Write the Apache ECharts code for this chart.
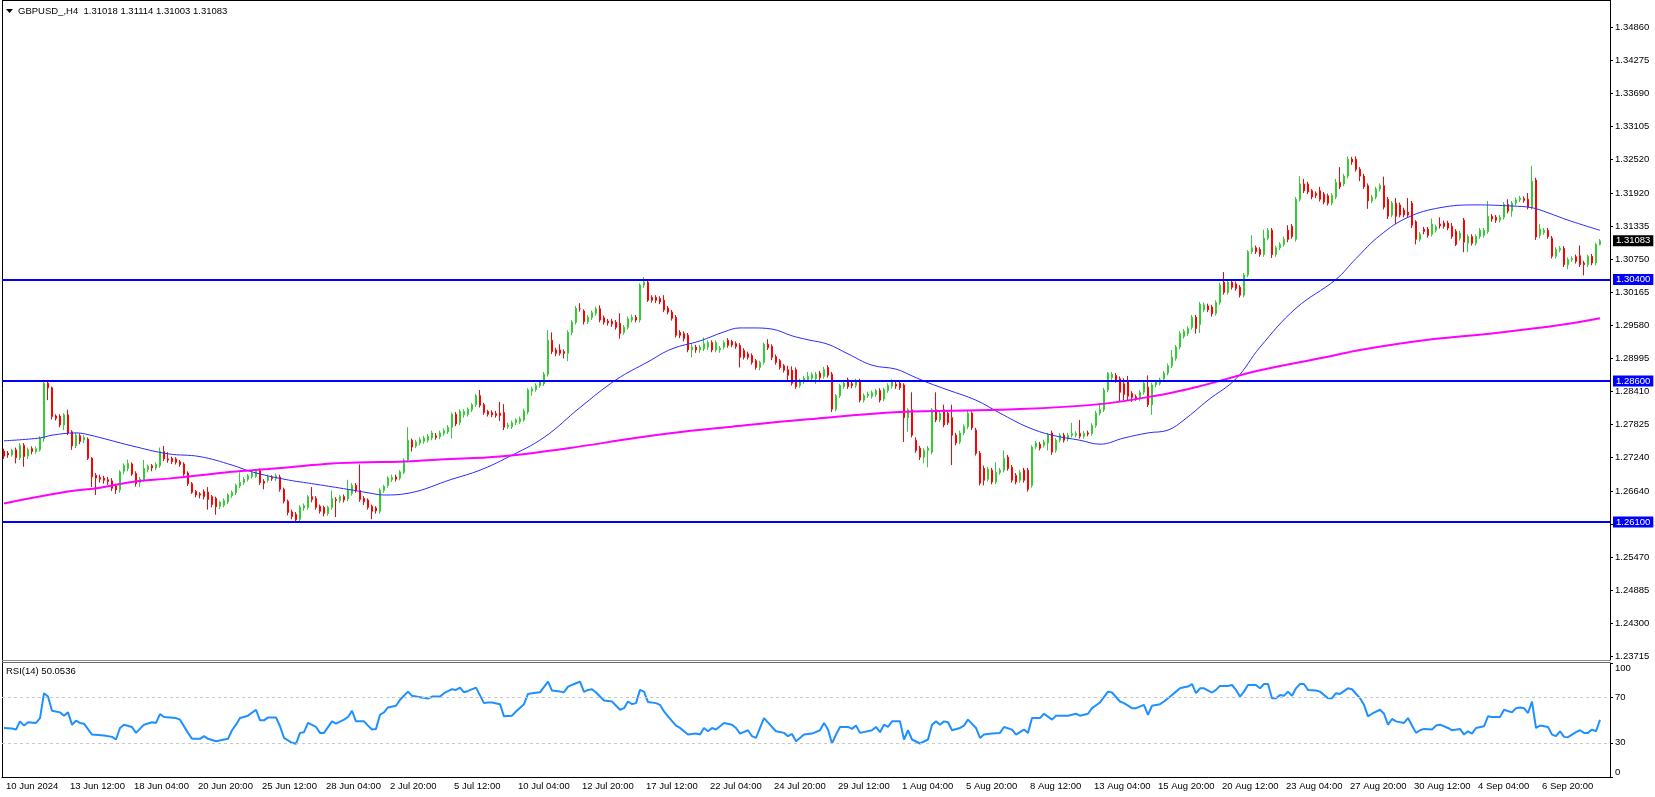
<!DOCTYPE html>
<html>
<head>
<meta charset="utf-8">
<title>GBPUSD H4</title>
<script src="https://cdn.jsdelivr.net/npm/echarts@6/dist/echarts.min.js"></script>
<style>
html, body {margin: 0; padding: 0; background: #fff;}
#chart {width: 1655px; height: 797px;}
</style>
</head>
<body>
<div id="chart"></div>
<script>
// H4 bars, [open, close, low, high], first bar 10 Jun 20:00
const candles = [
[1.2736,1.2727,1.2722,1.2740],[1.2732,1.2729,1.2724,1.2736],[1.2729,1.2737,1.2726,1.2740],[1.2738,1.2724,1.2714,1.2742],
[1.2724,1.2746,1.2720,1.2750],[1.2746,1.2726,1.2708,1.2750],[1.2727,1.2738,1.2722,1.2742],[1.2740,1.2735,1.2730,1.2744],
[1.2735,1.2740,1.2731,1.2744],[1.2738,1.2758,1.2735,1.2762],[1.2758,1.2856,1.2752,1.2860],[1.2856,1.2848,1.2826,1.2860],
[1.2848,1.2797,1.2792,1.2850],[1.2798,1.2794,1.2790,1.2801],[1.2798,1.2782,1.2778,1.2801],[1.2782,1.2800,1.2773,1.2803],
[1.2800,1.2768,1.2764,1.2809],[1.2770,1.2745,1.2738,1.2773],[1.2745,1.2764,1.2741,1.2768],[1.2763,1.2753,1.2748,1.2767],
[1.2756,1.2760,1.2750,1.2764],[1.2757,1.2723,1.2720,1.2760],[1.2723,1.2690,1.2672,1.2725],[1.2693,1.2688,1.2658,1.2697],
[1.2689,1.2686,1.2680,1.2694],[1.2688,1.2684,1.2678,1.2692],[1.2685,1.2682,1.2676,1.2690],[1.2683,1.2670,1.2665,1.2688],
[1.2674,1.2667,1.2660,1.2678],[1.2667,1.2699,1.2662,1.2702],[1.2700,1.2710,1.2695,1.2714],[1.2705,1.2714,1.2700,1.2721],
[1.2713,1.2695,1.2692,1.2716],[1.2696,1.2678,1.2673,1.2700],[1.2680,1.2686,1.2672,1.2690],[1.2685,1.2705,1.2682,1.2720],
[1.2703,1.2709,1.2698,1.2712],[1.2710,1.2706,1.2700,1.2713],[1.2706,1.2712,1.2702,1.2716],[1.2710,1.2735,1.2706,1.2742],
[1.2735,1.2722,1.2718,1.2745],[1.2722,1.2720,1.2715,1.2734],[1.2723,1.2717,1.2713,1.2726],[1.2722,1.2716,1.2712,1.2725],
[1.2717,1.2712,1.2708,1.2720],[1.2713,1.2695,1.2692,1.2716],[1.2697,1.2678,1.2674,1.2700],[1.2678,1.2663,1.2660,1.2681],
[1.2664,1.2658,1.2654,1.2667],[1.2660,1.2658,1.2652,1.2663],[1.2664,1.2655,1.2650,1.2668],[1.2663,1.2650,1.2632,1.2672],
[1.2655,1.2641,1.2636,1.2658],[1.2652,1.2637,1.2623,1.2655],[1.2638,1.2645,1.2633,1.2648],[1.2640,1.2648,1.2636,1.2652],
[1.2646,1.2658,1.2642,1.2661],[1.2657,1.2663,1.2653,1.2666],[1.2662,1.2675,1.2658,1.2678],[1.2674,1.2680,1.2670,1.2698],
[1.2680,1.2686,1.2676,1.2690],[1.2686,1.2692,1.2682,1.2695],[1.2691,1.2697,1.2687,1.2700],[1.2691,1.2700,1.2688,1.2704],
[1.2701,1.2680,1.2676,1.2705],[1.2682,1.2679,1.2668,1.2686],[1.2684,1.2690,1.2680,1.2694],[1.2689,1.2687,1.2683,1.2693],
[1.2687,1.2692,1.2683,1.2696],[1.2690,1.2668,1.2664,1.2694],[1.2668,1.2647,1.2643,1.2671],[1.2647,1.2627,1.2622,1.2650],
[1.2628,1.2620,1.2615,1.2632],[1.2624,1.2614,1.2610,1.2628],[1.2615,1.2636,1.2611,1.2640],[1.2635,1.2639,1.2630,1.2643],
[1.2636,1.2655,1.2632,1.2658],[1.2655,1.2650,1.2645,1.2672],[1.2652,1.2636,1.2632,1.2656],[1.2638,1.2629,1.2625,1.2641],
[1.2636,1.2625,1.2620,1.2639],[1.2625,1.2636,1.2621,1.2639],[1.2636,1.2652,1.2632,1.2666],[1.2650,1.2648,1.2619,1.2654],
[1.2648,1.2655,1.2644,1.2658],[1.2655,1.2649,1.2645,1.2659],[1.2651,1.2667,1.2647,1.2685],[1.2661,1.2675,1.2657,1.2679],
[1.2675,1.2666,1.2662,1.2679],[1.2666,1.2650,1.2646,1.2712],[1.2652,1.2646,1.2640,1.2656],[1.2649,1.2636,1.2632,1.2652],
[1.2638,1.2629,1.2615,1.2641],[1.2635,1.2630,1.2625,1.2638],[1.2629,1.2667,1.2625,1.2670],[1.2666,1.2673,1.2662,1.2676],
[1.2675,1.2688,1.2671,1.2691],[1.2685,1.2689,1.2681,1.2694],[1.2690,1.2686,1.2682,1.2694],[1.2688,1.2699,1.2684,1.2702],
[1.2698,1.2720,1.2695,1.2723],[1.2720,1.2755,1.2716,1.2778],[1.2755,1.2743,1.2735,1.2758],[1.2745,1.2752,1.2741,1.2756],
[1.2750,1.2756,1.2746,1.2760],[1.2753,1.2759,1.2749,1.2763],[1.2755,1.2762,1.2751,1.2766],[1.2759,1.2768,1.2755,1.2772],
[1.2763,1.2760,1.2756,1.2768],[1.2761,1.2768,1.2757,1.2772],[1.2767,1.2772,1.2763,1.2776],[1.2770,1.2778,1.2766,1.2782],
[1.2778,1.2801,1.2758,1.2804],[1.2801,1.2784,1.2780,1.2805],[1.2786,1.2806,1.2782,1.2810],[1.2800,1.2806,1.2795,1.2810],
[1.2801,1.2810,1.2797,1.2813],[1.2809,1.2818,1.2805,1.2821],[1.2818,1.2834,1.2814,1.2837],[1.2834,1.2817,1.2813,1.2844],
[1.2818,1.2804,1.2800,1.2821],[1.2806,1.2801,1.2797,1.2809],[1.2804,1.2800,1.2796,1.2808],[1.2802,1.2799,1.2795,1.2807],
[1.2803,1.2799,1.2789,1.2823],[1.2804,1.2778,1.2773,1.2819],[1.2779,1.2782,1.2775,1.2786],[1.2779,1.2786,1.2775,1.2790],
[1.2786,1.2791,1.2782,1.2794],[1.2788,1.2793,1.2784,1.2797],[1.2791,1.2807,1.2788,1.2811],[1.2805,1.2844,1.2801,1.2847],
[1.2842,1.2846,1.2834,1.2850],[1.2845,1.2852,1.2841,1.2856],[1.2852,1.2858,1.2848,1.2862],[1.2855,1.2872,1.2851,1.2876],
[1.2872,1.2932,1.2868,1.2950],[1.2932,1.2912,1.2908,1.2946],[1.2915,1.2909,1.2904,1.2919],[1.2915,1.2909,1.2905,1.2925],
[1.2912,1.2909,1.2900,1.2916],[1.2909,1.2946,1.2895,1.2950],[1.2946,1.2964,1.2941,1.2968],[1.2964,1.2989,1.2960,1.2993],
[1.2988,1.2988,1.2983,1.2998],[1.2984,1.2965,1.2960,1.2987],[1.2965,1.2973,1.2961,1.2977],[1.2972,1.2981,1.2968,1.2985],
[1.2980,1.2988,1.2976,1.2992],[1.2988,1.2968,1.2964,1.2994],[1.2972,1.2964,1.2960,1.2976],[1.2966,1.2963,1.2958,1.2970],
[1.2966,1.2961,1.2956,1.2970],[1.2964,1.2955,1.2951,1.2968],[1.2962,1.2944,1.2935,1.2980],[1.2946,1.2955,1.2942,1.2959],
[1.2955,1.2970,1.2951,1.2974],[1.2968,1.2973,1.2964,1.2978],[1.2973,1.2968,1.2964,1.2977],[1.2968,1.3030,1.2964,1.3033],
[1.3030,1.3035,1.3025,1.3044],[1.3035,1.3003,1.3000,1.3040],[1.3008,1.3003,1.2999,1.3012],[1.3008,1.3003,1.2998,1.3012],
[1.3006,1.3000,1.2996,1.3010],[1.3003,1.2986,1.2982,1.3012],[1.2989,1.2982,1.2978,1.2993],[1.2982,1.2971,1.2967,1.2986],
[1.2973,1.2941,1.2937,1.2977],[1.2946,1.2941,1.2936,1.2950],[1.2944,1.2935,1.2930,1.2948],[1.2941,1.2915,1.2911,1.2945],
[1.2915,1.2920,1.2902,1.2927],[1.2920,1.2915,1.2910,1.2924],[1.2915,1.2920,1.2910,1.2924],[1.2917,1.2926,1.2913,1.2937],
[1.2920,1.2928,1.2915,1.2932],[1.2928,1.2915,1.2911,1.2932],[1.2915,1.2928,1.2911,1.2932],[1.2915,1.2918,1.2910,1.2922],
[1.2920,1.2928,1.2916,1.2932],[1.2932,1.2923,1.2919,1.2936],[1.2930,1.2924,1.2920,1.2933],[1.2926,1.2921,1.2917,1.2930],
[1.2923,1.2902,1.2884,1.2927],[1.2914,1.2902,1.2898,1.2918],[1.2908,1.2902,1.2898,1.2912],[1.2905,1.2893,1.2889,1.2909],
[1.2896,1.2884,1.2880,1.2899],[1.2884,1.2893,1.2879,1.2896],[1.2893,1.2925,1.2889,1.2928],[1.2925,1.2919,1.2915,1.2934],
[1.2921,1.2902,1.2897,1.2925],[1.2903,1.2893,1.2889,1.2907],[1.2896,1.2884,1.2880,1.2899],[1.2887,1.2879,1.2875,1.2890],
[1.2880,1.2870,1.2858,1.2887],[1.2879,1.2856,1.2852,1.2886],[1.2880,1.2850,1.2846,1.2884],[1.2852,1.2860,1.2848,1.2864],
[1.2859,1.2865,1.2855,1.2869],[1.2862,1.2868,1.2858,1.2876],[1.2865,1.2871,1.2861,1.2875],[1.2864,1.2872,1.2855,1.2876],
[1.2874,1.2866,1.2862,1.2878],[1.2868,1.2880,1.2864,1.2885],[1.2884,1.2870,1.2866,1.2888],[1.2872,1.2810,1.2805,1.2876],
[1.2810,1.2834,1.2806,1.2837],[1.2834,1.2852,1.2830,1.2855],[1.2850,1.2856,1.2846,1.2860],[1.2862,1.2850,1.2846,1.2866],
[1.2855,1.2852,1.2847,1.2859],[1.2852,1.2861,1.2848,1.2864],[1.2861,1.2826,1.2822,1.2864],[1.2826,1.2834,1.2822,1.2838],
[1.2834,1.2837,1.2830,1.2841],[1.2833,1.2839,1.2829,1.2843],[1.2836,1.2843,1.2832,1.2846],[1.2843,1.2826,1.2822,1.2847],
[1.2828,1.2845,1.2824,1.2848],[1.2843,1.2852,1.2839,1.2856],[1.2851,1.2860,1.2847,1.2863],[1.2854,1.2851,1.2846,1.2858],
[1.2856,1.2848,1.2844,1.2860],[1.2853,1.2795,1.2752,1.2856],[1.2795,1.2809,1.2770,1.2812],[1.2809,1.2764,1.2760,1.2840],
[1.2755,1.2737,1.2733,1.2760],[1.2741,1.2725,1.2720,1.2745],[1.2725,1.2737,1.2714,1.2741],[1.2737,1.2741,1.2707,1.2745],
[1.2734,1.2809,1.2730,1.2812],[1.2809,1.2791,1.2787,1.2840],[1.2791,1.2803,1.2787,1.2807],[1.2809,1.2782,1.2778,1.2818],
[1.2803,1.2786,1.2782,1.2807],[1.2795,1.2764,1.2711,1.2818],[1.2764,1.2750,1.2746,1.2768],[1.2752,1.2768,1.2748,1.2772],
[1.2768,1.2779,1.2764,1.2783],[1.2779,1.2803,1.2775,1.2807],[1.2803,1.2777,1.2773,1.2806],[1.2773,1.2732,1.2728,1.2777],
[1.2732,1.2679,1.2675,1.2736],[1.2705,1.2684,1.2675,1.2710],[1.2686,1.2704,1.2682,1.2708],[1.2702,1.2681,1.2677,1.2706],
[1.2681,1.2698,1.2677,1.2716],[1.2698,1.2702,1.2694,1.2706],[1.2702,1.2723,1.2698,1.2737],[1.2725,1.2705,1.2701,1.2729],
[1.2707,1.2684,1.2680,1.2711],[1.2693,1.2681,1.2677,1.2697],[1.2684,1.2698,1.2680,1.2702],[1.2702,1.2684,1.2680,1.2706],
[1.2702,1.2668,1.2664,1.2706],[1.2675,1.2743,1.2671,1.2746],[1.2743,1.2750,1.2739,1.2754],[1.2748,1.2741,1.2737,1.2752],
[1.2746,1.2752,1.2742,1.2756],[1.2750,1.2764,1.2737,1.2768],[1.2768,1.2734,1.2729,1.2772],[1.2737,1.2755,1.2733,1.2759],
[1.2755,1.2764,1.2751,1.2768],[1.2764,1.2755,1.2751,1.2768],[1.2757,1.2764,1.2753,1.2768],[1.2764,1.2767,1.2760,1.2786],
[1.2764,1.2767,1.2760,1.2771],[1.2767,1.2762,1.2758,1.2791],[1.2762,1.2767,1.2758,1.2771],[1.2768,1.2766,1.2762,1.2772],
[1.2767,1.2781,1.2763,1.2785],[1.2781,1.2803,1.2777,1.2807],[1.2803,1.2809,1.2799,1.2821],[1.2809,1.2844,1.2805,1.2848],
[1.2844,1.2874,1.2840,1.2876],[1.2866,1.2872,1.2858,1.2876],[1.2870,1.2861,1.2857,1.2874],[1.2864,1.2840,1.2823,1.2868],
[1.2855,1.2836,1.2826,1.2865],[1.2860,1.2833,1.2826,1.2869],[1.2838,1.2831,1.2823,1.2842],[1.2832,1.2829,1.2825,1.2836],
[1.2829,1.2840,1.2825,1.2844],[1.2840,1.2856,1.2836,1.2860],[1.2849,1.2818,1.2814,1.2870],[1.2818,1.2853,1.2800,1.2857],
[1.2853,1.2858,1.2849,1.2862],[1.2856,1.2862,1.2852,1.2866],[1.2864,1.2874,1.2860,1.2878],[1.2874,1.2887,1.2870,1.2891],
[1.2887,1.2902,1.2883,1.2915],[1.2900,1.2920,1.2896,1.2924],[1.2920,1.2944,1.2916,1.2948],[1.2939,1.2948,1.2935,1.2952],
[1.2944,1.2953,1.2940,1.2957],[1.2955,1.2973,1.2951,1.2977],[1.2973,1.2953,1.2944,1.2977],[1.2960,1.2996,1.2945,1.3000],
[1.2986,1.2995,1.2982,1.2999],[1.2993,1.2986,1.2982,1.2997],[1.2991,1.2979,1.2974,1.2995],[1.2980,1.2999,1.2976,1.3003],
[1.2999,1.3030,1.2995,1.3034],[1.3035,1.3017,1.3013,1.3053],[1.3017,1.3035,1.3013,1.3038],[1.3035,1.3026,1.3022,1.3039],
[1.3032,1.3024,1.3020,1.3036],[1.3026,1.3012,1.3008,1.3030],[1.3012,1.3048,1.3008,1.3051],[1.3048,1.3089,1.3044,1.3092],
[1.3089,1.3096,1.3085,1.3118],[1.3096,1.3089,1.3085,1.3100],[1.3093,1.3084,1.3080,1.3097],[1.3084,1.3113,1.3080,1.3128],
[1.3113,1.3127,1.3109,1.3131],[1.3127,1.3084,1.3078,1.3131],[1.3084,1.3096,1.3080,1.3100],[1.3096,1.3102,1.3092,1.3106],
[1.3102,1.3111,1.3098,1.3116],[1.3127,1.3111,1.3106,1.3136],[1.3134,1.3116,1.3112,1.3138],[1.3111,1.3182,1.3107,1.3186],
[1.3182,1.3209,1.3178,1.3223],[1.3209,1.3197,1.3193,1.3218],[1.3209,1.3195,1.3191,1.3213],[1.3197,1.3186,1.3182,1.3200],
[1.3192,1.3189,1.3184,1.3196],[1.3197,1.3182,1.3178,1.3204],[1.3191,1.3177,1.3173,1.3195],[1.3188,1.3175,1.3171,1.3192],
[1.3175,1.3189,1.3171,1.3193],[1.3186,1.3212,1.3182,1.3218],[1.3212,1.3204,1.3200,1.3239],[1.3209,1.3223,1.3205,1.3227],
[1.3223,1.3253,1.3219,1.3258],[1.3253,1.3248,1.3243,1.3257],[1.3253,1.3235,1.3231,1.3258],[1.3235,1.3223,1.3214,1.3239],
[1.3223,1.3204,1.3200,1.3227],[1.3206,1.3179,1.3165,1.3210],[1.3179,1.3186,1.3175,1.3190],[1.3186,1.3200,1.3182,1.3204],
[1.3200,1.3206,1.3196,1.3210],[1.3206,1.3168,1.3164,1.3222],[1.3182,1.3152,1.3147,1.3186],[1.3154,1.3175,1.3150,1.3179],
[1.3175,1.3152,1.3138,1.3184],[1.3172,1.3154,1.3150,1.3176],[1.3163,1.3154,1.3150,1.3167],[1.3159,1.3154,1.3150,1.3184],
[1.3175,1.3136,1.3131,1.3179],[1.3142,1.3111,1.3102,1.3145],[1.3111,1.3120,1.3107,1.3124],[1.3129,1.3125,1.3120,1.3133],
[1.3129,1.3118,1.3114,1.3133],[1.3120,1.3138,1.3116,1.3148],[1.3127,1.3133,1.3123,1.3137],[1.3138,1.3135,1.3130,1.3150],
[1.3140,1.3134,1.3130,1.3144],[1.3140,1.3131,1.3127,1.3144],[1.3134,1.3116,1.3112,1.3140],[1.3125,1.3102,1.3099,1.3129],
[1.3113,1.3122,1.3109,1.3126],[1.3145,1.3106,1.3088,1.3149],[1.3104,1.3116,1.3088,1.3120],[1.3116,1.3104,1.3100,1.3120],
[1.3104,1.3116,1.3100,1.3120],[1.3116,1.3127,1.3112,1.3131],[1.3118,1.3127,1.3114,1.3131],[1.3125,1.3152,1.3121,1.3179],
[1.3152,1.3147,1.3142,1.3156],[1.3150,1.3145,1.3140,1.3154],[1.3145,1.3150,1.3141,1.3154],[1.3150,1.3173,1.3146,1.3177],
[1.3173,1.3161,1.3157,1.3182],[1.3161,1.3175,1.3151,1.3179],[1.3175,1.3181,1.3171,1.3185],[1.3181,1.3184,1.3177,1.3188],
[1.3183,1.3180,1.3176,1.3187],[1.3182,1.3168,1.3164,1.3193],[1.3168,1.3214,1.3164,1.3241],[1.3216,1.3115,1.3110,1.3220],
[1.3118,1.3129,1.3113,1.3138],[1.3123,1.3127,1.3119,1.3131],[1.3127,1.3116,1.3112,1.3131],[1.3113,1.3081,1.3077,1.3117],
[1.3081,1.3093,1.3077,1.3097],[1.3092,1.3095,1.3088,1.3099],[1.3095,1.3066,1.3062,1.3099],[1.3066,1.3075,1.3058,1.3079],
[1.3075,1.3077,1.3071,1.3081],[1.3080,1.3072,1.3068,1.3084],[1.3082,1.3066,1.3062,1.3100],[1.3069,1.3066,1.3047,1.3073],
[1.3066,1.3081,1.3062,1.3084],[1.3081,1.3069,1.3065,1.3085],[1.3069,1.3102,1.3065,1.3105],[1.31018,1.31083,1.31003,1.31114]
];

// moving averages: [bar index, price]
const maFast = [
[0,1.2754],[9,1.2759],[12,1.2764],[18,1.2768],[21,1.2765],[32,1.2745],[41,1.2731],[49,1.2726],[57,1.2711],[62,1.2699],
[70,1.2686],[78,1.2677],[86,1.2668],[91,1.2662],[95,1.2658],[101,1.2661],[112,1.2686],[119,1.2702],[126,1.2725],[135,1.2760],
[144,1.2813],[153,1.2862],[161,1.2894],[167,1.2917],[174,1.2931],[180,1.2947],[184,1.2954],[187,1.2954],[192,1.2952],[197,1.2940],
[201,1.2933],[206,1.2925],[211,1.2908],[217,1.2888],[223,1.2881],[227,1.2869],[231,1.2857],[236,1.2844],[243,1.2826],[249,1.2803],
[256,1.2778],[262,1.2764],[269,1.2755],[274,1.2748],[280,1.2759],[286,1.2768],[291,1.2773],[295,1.2791],[301,1.2826],[308,1.2864],
[314,1.2920],[323,1.2989],[333,1.3040],[338,1.3077],[344,1.3118],[351,1.3150],[359,1.3167],[368,1.3172],[377,1.3170],[382,1.3167],
[386,1.3158],[391,1.3145],[399,1.3127]
];
const maSlow = [
[0,1.2643],[16,1.2664],[24,1.2671],[32,1.2681],[41,1.2687],[49,1.2693],[57,1.2699],[66,1.2704],[74,1.2709],[82,1.2714],
[91,1.2716],[99,1.2717],[109,1.2721],[124,1.2726],[141,1.2741],[157,1.2758],[166,1.2767],[182,1.2779],[201,1.2792],[224,1.2805],
[249,1.2809],[274,1.2819],[291,1.2838],[298,1.2849],[314,1.2879],[331,1.2903],[339,1.2915],[356,1.2933],[373,1.2945],[389,1.2959],
[399,1.2971]
];

// RSI(14): [bar index, value]
const rsiLine = [
[0,43.0],[2,42.5],[3,41.6],[4,48.8],[5,45.1],[6,48.0],[8,47.4],[9,51.7],[10,73.5],[11,70.6],[12,58.1],[14,56.7],[15,53.8],
[16,56.7],[17,45.9],[18,49.4],[19,47.4],[20,46.8],[22,37.2],[25,36.4],[27,35.2],[28,32.9],[29,43.0],[30,45.9],[32,43.9],
[33,38.7],[35,45.9],[37,48.0],[38,47.4],[39,55.2],[40,52.6],[43,51.7],[44,50.3],[46,38.7],[47,33.5],[49,33.5],[50,35.8],
[51,33.5],[53,31.4],[56,33.5],[57,41.0],[58,45.9],[59,51.7],[61,53.8],[63,59.0],[64,49.7],[65,49.7],[66,52.3],[68,52.3],
[69,44.5],[70,34.3],[72,30.0],[73,29.1],[74,38.7],[75,39.3],[76,47.4],[78,43.9],[79,38.7],[80,38.7],[82,48.8],[83,46.8],
[85,50.3],[86,52.6],[87,58.1],[88,48.8],[90,48.8],[91,45.1],[92,41.6],[93,42.2],[94,54.6],[95,56.7],[96,61.0],[98,62.5],
[99,67.7],[101,74.9],[102,71.2],[104,70.0],[106,68.8],[107,70.6],[109,70.6],[110,73.5],[112,77.0],[113,76.4],[114,78.4],
[115,74.3],[116,75.5],[118,78.4],[120,64.8],[121,65.4],[122,65.4],[124,63.9],[125,53.2],[127,53.8],[128,57.5],[130,63.9],
[131,72.9],[132,73.5],[134,74.3],[136,83.6],[137,75.8],[139,74.9],[140,74.3],[141,79.3],[143,82.2],[144,83.6],[145,74.6],
[146,76.4],[147,77.0],[148,74.1],[150,67.1],[152,66.2],[154,59.0],[155,60.4],[156,66.2],[157,63.9],[158,64.8],[159,76.4],
[160,74.9],[161,65.7],[163,64.8],[164,63.3],[165,57.5],[166,53.2],[168,45.1],[169,43.0],[171,37.2],[173,38.1],[174,37.2],
[175,43.0],[176,40.1],[177,43.0],[178,41.6],[180,47.4],[182,45.9],[183,43.0],[184,38.1],[186,41.0],[187,35.8],[188,34.3],
[189,43.0],[190,51.7],[192,43.9],[193,40.1],[195,38.7],[196,35.8],[197,37.8],[198,31.4],[200,37.2],[202,38.1],[204,41.0],
[205,47.4],[206,41.6],[207,29.4],[208,37.2],[209,43.9],[211,43.9],[212,42.2],[213,45.1],[214,38.7],[217,41.0],[218,43.9],
[219,39.3],[220,45.9],[221,43.9],[222,48.8],[224,48.8],[225,32.9],[226,41.0],[227,32.9],[229,29.4],[231,32.9],[232,45.9],
[233,48.8],[234,45.9],[235,48.8],[236,48.0],[237,41.0],[239,43.0],[240,45.1],[241,50.3],[243,43.0],[244,34.3],[245,37.2],
[247,38.1],[249,38.7],[250,43.9],[252,41.6],[253,37.2],[255,41.6],[256,38.7],[257,51.7],[259,51.7],[260,55.5],[262,50.3],
[263,53.8],[266,53.8],[268,55.5],[269,53.8],[271,55.5],[272,60.4],[274,65.4],[276,74.9],[277,74.1],[279,66.2],[280,64.8],
[282,60.4],[283,60.4],[285,63.3],[286,54.6],[287,62.5],[289,63.9],[290,66.2],[291,69.1],[292,72.0],[293,74.9],[294,77.8],
[295,78.7],[296,79.3],[297,81.6],[298,73.5],[299,77.8],[300,77.8],[302,74.1],[303,76.4],[304,79.9],[306,79.9],[307,80.7],
[308,76.4],[309,70.6],[310,74.9],[311,80.7],[313,80.7],[314,77.8],[315,81.6],[316,81.6],[317,69.1],[318,69.1],[319,72.0],
[320,71.2],[321,74.9],[322,71.2],[323,77.8],[324,81.6],[325,81.6],[326,76.4],[328,75.8],[329,74.9],[331,69.1],[332,69.1],
[333,73.5],[334,72.9],[336,77.8],[337,77.0],[339,69.1],[340,63.3],[341,53.2],[342,55.5],[344,59.0],[345,55.5],[346,45.9],
[347,50.9],[348,48.8],[350,47.4],[351,51.7],[352,45.1],[353,38.7],[354,41.0],[355,42.2],[357,41.6],[358,45.1],[359,45.9],
[361,43.0],[362,41.0],[364,42.2],[365,37.2],[366,40.1],[367,38.1],[368,43.0],[370,44.5],[371,53.2],[372,52.6],[374,52.6],
[375,59.0],[377,56.7],[378,60.4],[379,61.0],[380,60.4],[381,56.1],[382,66.2],[383,43.0],[384,45.1],[386,43.9],[387,37.2],
[388,35.8],[389,40.1],[390,35.2],[391,34.9],[393,39.3],[394,41.0],[395,38.7],[396,38.7],[397,41.6],[398,40.1],[399,50.05]
];

const levels = [1.30400, 1.28600, 1.26100];
const lastPrice = 1.31083;
const priceTicks = [1.34860, 1.34275, 1.33690, 1.33105, 1.32520, 1.31920, 1.31335, 1.30750, 1.30165, 1.29580,
  1.28995, 1.28410, 1.27825, 1.27240, 1.26640, 1.26055, 1.25470, 1.24885, 1.24300, 1.23715];
const rsiTicks = [0, 30, 70, 100];
const timeLabels = ['10 Jun 2024', '13 Jun 12:00', '18 Jun 04:00', '20 Jun 20:00', '25 Jun 12:00', '28 Jun 04:00',
  '2 Jul 20:00', '5 Jul 12:00', '10 Jul 04:00', '12 Jul 20:00', '17 Jul 12:00', '22 Jul 04:00', '24 Jul 20:00',
  '29 Jul 12:00', '1 Aug 04:00', '5 Aug 20:00', '8 Aug 12:00', '13 Aug 04:00', '15 Aug 20:00', '20 Aug 12:00',
  '23 Aug 04:00', '27 Aug 20:00', '30 Aug 12:00', '4 Sep 04:00', '6 Sep 20:00'];
const labelStep = 16;

const font = 'Liberation Sans';
const slots = candles.length + 2;          // chart shift on the right
const cats = Array.from({length: slots}, (_, i) => i);
const showTime = (i) => i % labelStep === 0 && i / labelStep < timeLabels.length;

const option = {
    animation: false,
    backgroundColor: '#fff',
    grid: [
        {left: 2, right: 45, top: 0, height: 660},
        {left: 2, right: 45, top: 663, height: 114}
    ],
    xAxis: [
        {type: 'category', gridIndex: 0, data: cats, boundaryGap: true,
            axisLine: {show: false}, axisTick: {show: false}, axisLabel: {show: false}, splitLine: {show: false}},
        {type: 'category', gridIndex: 1, data: cats, boundaryGap: true,
            axisLine: {lineStyle: {color: '#000', width: 1}},
            axisTick: {alignWithLabel: true, interval: showTime, length: 4, lineStyle: {color: '#000'}},
            axisLabel: {interval: showTime, formatter: (v, i) => timeLabels[i / labelStep], align: 'left',
                padding: [0, 0, 0, 2], margin: 4, fontSize: 9.5, fontFamily: font, color: '#000'},
            splitLine: {show: false}}
    ],
    yAxis: [
        {type: 'value', gridIndex: 0, position: 'right', min: 1.236565, max: 1.353503,
            axisLine: {show: true, lineStyle: {color: '#000'}},
            axisTick: {show: true, customValues: priceTicks, length: 3, lineStyle: {color: '#000'}},
            axisLabel: {customValues: priceTicks, formatter: v => v.toFixed(5), margin: 5,
                fontSize: 9.5, fontFamily: font, color: '#000'},
            splitLine: {show: false}},
        {type: 'value', gridIndex: 1, position: 'right', min: 0, max: 100,
            axisLine: {show: true, lineStyle: {color: '#000'}},
            axisTick: {show: true, customValues: rsiTicks, length: 3, lineStyle: {color: '#000'}},
            axisLabel: {customValues: rsiTicks, margin: 5, fontSize: 9.5, fontFamily: font, color: '#000',
                verticalAlignMinLabel: 'bottom', verticalAlignMaxLabel: 'top'},
            splitLine: {show: false}}
    ],
    series: [
        {
            name: 'GBPUSD', type: 'candlestick', xAxisIndex: 0, yAxisIndex: 0, data: candles,
            barWidth: 2,
            itemStyle: {color: '#32cd32', color0: '#ff0000', borderColor: '#32cd32', borderColor0: '#ff0000', borderWidth: 1},
            markLine: {
                silent: true, symbol: ['none', 'none'], animation: false, precision: 5,
                label: {show: true, position: 'end', distance: 3, color: '#fff', backgroundColor: '#0000ff',
                    padding: [1, 3, 0, 3], fontSize: 9.5, fontFamily: font, formatter: p => Number(p.value).toFixed(5)},
                lineStyle: {color: '#0000ff', width: 2, type: 'solid'},
                data: levels.map(v => ({yAxis: v})).concat([
                    {yAxis: lastPrice, lineStyle: {color: 'rgba(0,0,0,0)', width: 0},
                        label: {show: true, backgroundColor: '#000', color: '#fff'}}
                ])
            },
            z: 3
        },
        {name: 'MA fast', type: 'line', xAxisIndex: 0, yAxisIndex: 0, data: maFast, showSymbol: false,
            smooth: 0.4, lineStyle: {color: '#2b2bff', width: 1}, z: 4},
        {name: 'MA slow', type: 'line', xAxisIndex: 0, yAxisIndex: 0, data: maSlow, showSymbol: false,
            smooth: 0.4, lineStyle: {color: '#ff00ff', width: 2}, z: 4},
        {
            name: 'RSI', type: 'line', xAxisIndex: 1, yAxisIndex: 1, data: rsiLine, showSymbol: false,
            lineStyle: {color: '#1e90ff', width: 2},
            markLine: {silent: true, symbol: ['none', 'none'], label: {show: false},
                lineStyle: {color: '#c8c8c8', type: [3, 3], width: 1},
                data: [{yAxis: 30}, {yAxis: 70}]}
        }
    ],
    graphic: [
        {type: 'line', shape: {x1: 2.5, y1: 0, x2: 2.5, y2: 777}, style: {stroke: '#000', lineWidth: 1}},
        {type: 'line', shape: {x1: 2, y1: 0.5, x2: 1610, y2: 0.5}, style: {stroke: '#000', lineWidth: 1}},
        {type: 'line', shape: {x1: 2, y1: 660.5, x2: 1610, y2: 660.5}, style: {stroke: '#8a8a8a', lineWidth: 1}},
        {type: 'line', shape: {x1: 2, y1: 662.5, x2: 1610, y2: 662.5}, style: {stroke: '#6a6a6a', lineWidth: 1}},
        {type: 'polygon', shape: {points: [[6, 9], [13, 9], [9.5, 13]]}, style: {fill: '#000'}},
        {type: 'text', x: 18, y: 11,
            style: {text: 'GBPUSD_,H4  1.31018 1.31114 1.31003 1.31083', font: '9.5px "Liberation Sans"',
                fill: '#000', verticalAlign: 'middle'}},
        {type: 'text', x: 6, y: 671,
            style: {text: 'RSI(14) 50.0536', font: '9.5px "Liberation Sans"', fill: '#000', verticalAlign: 'middle'}}
    ]
};

const myChart = echarts.init(document.getElementById('chart'));
myChart.setOption(option);
</script>
</body>
</html>
